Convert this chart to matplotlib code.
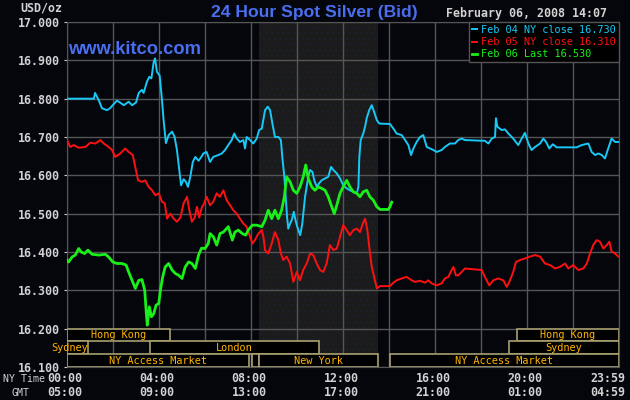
import matplotlib
matplotlib.use("Agg")
import matplotlib.pyplot as plt
from matplotlib.patches import Rectangle

# ---- data (hours since 00:00 NY time, USD/oz) ----
feb04_t = [0.0, 1.17, 1.22, 1.38, 1.52, 1.74, 1.87, 2.17, 2.30, 2.47, 2.68, 2.83, 3.00, 3.12, 3.26,
           3.33, 3.48, 3.58, 3.67, 3.77, 3.83, 3.91, 4.03, 4.13, 4.20, 4.30, 4.42, 4.57, 4.68, 4.78,
           4.88, 4.96, 5.07, 5.17, 5.26, 5.36, 5.47, 5.58, 5.72, 5.84, 5.93, 6.07, 6.22, 6.36, 6.58,
           6.73, 6.87, 7.01, 7.16, 7.27, 7.38, 7.52, 7.67, 7.74, 7.81, 7.96, 8.10, 8.25, 8.35, 8.47,
           8.61, 8.73, 8.83, 8.93, 9.04, 9.19, 9.30, 9.36, 9.45, 9.51, 9.57, 9.62, 9.70, 9.77, 9.86,
           9.91, 9.99, 10.06, 10.14, 10.23, 10.35, 10.42, 10.49, 10.57, 10.67, 10.75, 10.86, 10.96,
           11.07, 11.22, 11.36, 11.48, 11.58, 11.73, 11.87, 12.01, 12.16, 12.30, 12.45, 12.60, 12.67,
           12.71, 12.77, 12.88, 12.96, 13.03, 13.14, 13.25, 13.35, 13.47, 13.58, 14.04, 14.19, 14.33,
           14.55, 14.70, 14.84, 14.96, 15.06, 15.20, 15.35, 15.49, 15.64, 15.78, 15.93, 16.07, 16.29,
           16.43, 16.65, 16.87, 17.01, 17.16, 17.30, 18.17, 18.32, 18.47, 18.61, 18.65, 18.71, 18.90,
           19.04, 19.19, 19.40, 19.62, 19.77, 19.91, 20.06, 20.20, 20.35, 20.57, 20.71, 20.83, 20.97,
           21.12, 21.29, 22.16, 22.38, 22.67, 22.81, 22.96, 23.10, 23.25, 23.39, 23.53, 23.68, 23.83,
           23.97]
feb04_p = [16.800, 16.800, 16.815, 16.796, 16.775, 16.770, 16.775, 16.795, 16.790, 16.783, 16.792,
           16.783, 16.790, 16.815, 16.823, 16.815, 16.845, 16.857, 16.853, 16.896, 16.905, 16.870,
           16.860, 16.796, 16.744, 16.684, 16.705, 16.714, 16.700, 16.666, 16.614, 16.574, 16.590,
           16.583, 16.570, 16.596, 16.635, 16.648, 16.638, 16.648, 16.657, 16.661, 16.635, 16.648,
           16.653, 16.657, 16.666, 16.679, 16.692, 16.709, 16.696, 16.687, 16.692, 16.670, 16.700,
           16.692, 16.683, 16.696, 16.718, 16.722, 16.770, 16.779, 16.770, 16.735, 16.700, 16.700,
           16.692, 16.648, 16.596, 16.544, 16.490, 16.461, 16.474, 16.483, 16.505, 16.490, 16.470,
           16.457, 16.444, 16.474, 16.544, 16.570, 16.596, 16.614, 16.609, 16.587, 16.570, 16.579,
           16.587, 16.592, 16.596, 16.622, 16.614, 16.605, 16.592, 16.574, 16.566, 16.561, 16.557,
           16.553, 16.570, 16.648, 16.692, 16.709, 16.727, 16.749, 16.770, 16.783, 16.766, 16.744,
           16.735, 16.734, 16.722, 16.709, 16.705, 16.692, 16.679, 16.653, 16.670, 16.687, 16.700,
           16.705, 16.674, 16.670, 16.666, 16.661, 16.666, 16.674, 16.683, 16.683, 16.692, 16.696,
           16.692, 16.690, 16.683, 16.696, 16.700, 16.749, 16.727, 16.718, 16.720, 16.709, 16.696,
           16.679, 16.696, 16.711, 16.683, 16.666, 16.674, 16.683, 16.696, 16.687, 16.670, 16.681,
           16.673, 16.673, 16.679, 16.683, 16.661, 16.653, 16.657, 16.653, 16.644, 16.670, 16.696,
           16.687, 16.687]

feb05_t = [0.0, 0.14, 0.29, 0.51, 0.80, 1.01, 1.23, 1.45, 1.60, 1.81, 1.96, 2.10, 2.32, 2.53, 2.68,
           2.86, 2.97, 3.09, 3.26, 3.40, 3.55, 3.70, 3.84, 3.99, 4.13, 4.25, 4.35, 4.49, 4.64, 4.78,
           4.93, 5.07, 5.22, 5.32, 5.43, 5.55, 5.65, 5.75, 5.87, 5.93, 6.07, 6.22, 6.36, 6.51, 6.65,
           6.80, 6.94, 7.09, 7.23, 7.38, 7.52, 7.67, 7.81, 7.96, 8.06, 8.17, 8.32, 8.47, 8.54, 8.61,
           8.75, 8.90, 9.04, 9.19, 9.30, 9.40, 9.55, 9.70, 9.84, 9.99, 10.13, 10.27, 10.42, 10.57,
           10.71, 10.86, 11.00, 11.14, 11.29, 11.43, 11.58, 11.73, 11.87, 12.01, 12.16, 12.30, 12.45,
           12.60, 12.74, 12.86, 12.96, 13.06, 13.14, 13.25, 13.35, 13.47, 13.61, 14.04, 14.19, 14.33,
           14.55, 14.77, 14.99, 15.13, 15.35, 15.57, 15.71, 15.86, 16.07, 16.29, 16.43, 16.58, 16.68,
           16.80, 16.91, 17.01, 17.16, 17.30, 18.03, 18.17, 18.36, 18.53, 18.75, 18.97, 19.12, 19.26,
           19.40, 19.52, 19.70, 19.91, 20.13, 20.35, 20.57, 20.78, 21.00, 21.22, 21.43, 21.65, 21.80,
           22.01, 22.23, 22.45, 22.60, 22.74, 22.88, 23.03, 23.17, 23.32, 23.47, 23.58, 23.68, 23.83,
           23.97]
feb05_p = [16.692, 16.674, 16.679, 16.672, 16.674, 16.685, 16.683, 16.692, 16.683, 16.674, 16.666,
           16.648, 16.657, 16.670, 16.661, 16.653, 16.622, 16.587, 16.583, 16.587, 16.570, 16.561,
           16.548, 16.553, 16.531, 16.527, 16.487, 16.500, 16.487, 16.479, 16.490, 16.527, 16.544,
           16.509, 16.479, 16.490, 16.518, 16.490, 16.518, 16.522, 16.544, 16.522, 16.531, 16.553,
           16.544, 16.561, 16.535, 16.522, 16.509, 16.500, 16.487, 16.474, 16.466, 16.440, 16.422,
           16.431, 16.448, 16.457, 16.440, 16.405, 16.396, 16.422, 16.452, 16.431, 16.396, 16.379,
           16.388, 16.370, 16.322, 16.348, 16.326, 16.353, 16.370, 16.396, 16.392, 16.370, 16.353,
           16.348, 16.370, 16.418, 16.405, 16.409, 16.440, 16.470, 16.457, 16.444, 16.457, 16.461,
           16.452, 16.474, 16.487, 16.457, 16.414, 16.361, 16.335, 16.305, 16.311, 16.311, 16.320,
           16.326, 16.331, 16.335, 16.326, 16.322, 16.325, 16.320, 16.326, 16.318, 16.313, 16.318,
           16.331, 16.335, 16.348, 16.361, 16.339, 16.339, 16.348, 16.357, 16.353, 16.335, 16.313,
           16.326, 16.331, 16.326, 16.309, 16.326, 16.348, 16.374, 16.379, 16.383, 16.388, 16.392,
           16.388, 16.370, 16.366, 16.357, 16.361, 16.370, 16.357, 16.366, 16.353, 16.357, 16.370,
           16.396, 16.418, 16.431, 16.427, 16.409, 16.418, 16.427, 16.401, 16.396, 16.388]

feb06_t = [0.0, 0.07, 0.22, 0.36, 0.51, 0.62, 0.77, 0.91, 1.09, 1.38, 1.67, 1.81, 1.99, 2.17, 2.39,
           2.57, 2.68, 2.83, 2.97, 3.12, 3.26, 3.38, 3.45, 3.49, 3.58, 3.67, 3.77, 3.87, 3.99, 4.06,
           4.16, 4.27, 4.42, 4.57, 4.71, 4.86, 5.00, 5.14, 5.29, 5.43, 5.58, 5.72, 5.85, 6.00, 6.14,
           6.22, 6.36, 6.51, 6.65, 6.80, 7.01, 7.19, 7.30, 7.45, 7.62, 7.77, 7.88, 8.06, 8.25, 8.47,
           8.61, 8.75, 8.90, 9.04, 9.19, 9.33, 9.45, 9.55, 9.70, 9.84, 9.99, 10.13, 10.27, 10.38,
           10.49, 10.64, 10.78, 10.93, 11.07, 11.22, 11.36, 11.51, 11.62, 11.73, 11.87, 12.01, 12.16,
           12.30, 12.45, 12.60, 12.74, 12.88, 13.03, 13.17, 13.32, 13.47, 13.61, 13.97, 14.04, 14.12]
feb06_p = [16.379, 16.374, 16.387, 16.392, 16.409, 16.400, 16.396, 16.405, 16.394, 16.392, 16.394,
           16.387, 16.374, 16.370, 16.370, 16.366, 16.348, 16.326, 16.305, 16.326, 16.328, 16.300,
           16.239, 16.209, 16.257, 16.231, 16.239, 16.261, 16.266, 16.300, 16.335, 16.361, 16.370,
           16.353, 16.344, 16.339, 16.331, 16.361, 16.374, 16.370, 16.357, 16.392, 16.410, 16.409,
           16.422, 16.448, 16.440, 16.418, 16.448, 16.452, 16.466, 16.431, 16.452, 16.457, 16.448,
           16.444, 16.457, 16.470, 16.470, 16.466, 16.483, 16.509, 16.487, 16.509, 16.487, 16.509,
           16.544, 16.596, 16.583, 16.561, 16.553, 16.570, 16.596, 16.627, 16.592, 16.570, 16.561,
           16.570, 16.566, 16.561, 16.544, 16.518, 16.500, 16.522, 16.553, 16.570, 16.587, 16.570,
           16.557, 16.553, 16.544, 16.557, 16.561, 16.544, 16.535, 16.518, 16.511, 16.511, 16.518,
           16.530]

series_labels = ["Feb 04 NY close 16.730", "Feb 05 NY close 16.310", "Feb 06 Last 16.530"]

ny_ticks = ["00:00", "04:00", "08:00", "12:00", "16:00", "20:00", "23:59"]
gmt_ticks = ["05:00", "09:00", "13:00", "17:00", "21:00", "01:00", "04:59"]
tick_hours = [0, 4, 8, 12, 16, 20, 24]
price_ticks = [16.1, 16.2, 16.3, 16.4, 16.5, 16.6, 16.7, 16.8, 16.9, 17.0]

# market sessions: (name, start hour, end hour, row) row 0 = top
sessions = [("Hong Kong", 0.0, 4.48, 0), ("Hong Kong", 19.57, 24.0, 0),
            ("Sydney", 0.0, 0.91, 1), ("London", 3.6, 10.96, 1), ("Sydney", 19.2, 24.0, 1),
            ("NY Access Market", 0.0, 7.93, 2), ("", 8.03, 8.33, 2), ("New York", 8.33, 13.52, 2),
            ("NY Access Market", 14.04, 24.0, 2)]
ny_open, ny_close = 8.33, 13.52

BG = "#05060c"
GRID = "#555555"
TXT = "#d2d2d2"
BLUE = "#4a6ef0"
MONO = "DejaVu Sans Mono"

fig = plt.figure(figsize=(6.3, 4.0), dpi=100, facecolor=BG)
ax = fig.add_axes([67 / 630, 1 - 367 / 400, 552 / 630, 345 / 400])
ax.set_facecolor(BG)
ax.set_xlim(0, 24)
ax.set_ylim(16.1, 17.0)

# New York session shading (faint dotted texture)
plt.rcParams["hatch.linewidth"] = 0.5
ax.axvspan(ny_open, ny_close, facecolor="#1b1b1b", edgecolor="#1a2238", hatch="...", lw=0, zorder=0)

ax.set_xticks(range(0, 25, 2))
ax.set_yticks(price_ticks)
ax.grid(True, color=GRID, lw=1, zorder=1)
for s in ax.spines.values():
    s.set_color(GRID)
ax.tick_params(axis="x", length=0, labelbottom=False)
ax.tick_params(axis="y", length=2, color="#cccccc", labelcolor=TXT, labelsize=8.4, pad=3)
ax.set_yticklabels([f"{v:.3f}" for v in price_ticks], family=MONO, weight="bold")

l1, = ax.plot(feb04_t, feb04_p, color="#18c8f5", lw=1.4, zorder=3, label=series_labels[0])
l2, = ax.plot(feb05_t, feb05_p, color="#ff1010", lw=1.4, zorder=3, label=series_labels[1])
l3, = ax.plot(feb06_t, feb06_p, color="#18f018", lw=2.0, zorder=4, label=series_labels[2])

# session bars
row_h = (16.2 - 16.1) / 3
for name, a, b, row in sessions:
    y0 = 16.2 - (row + 1) * row_h
    ax.add_patch(Rectangle((a, y0), b - a, row_h, facecolor="#000000", edgecolor="#a8a070",
                           lw=1.2, zorder=5))
    if not name:
        continue
    if name == "Sydney" and b < 2:
        ax.text(b, y0 + row_h / 2, name, ha="right", va="center", color="#ffb400", fontsize=7.4,
                family=MONO, zorder=6, clip_on=False)
    else:
        ax.text((a + b) / 2, y0 + row_h / 2, name, ha="center", va="center", color="#ffb400",
                fontsize=7.4, family=MONO, zorder=6)

leg = ax.legend(handles=[l1, l2, l3], loc="upper right", borderaxespad=0,
                prop={"family": MONO, "size": 7.4}, labelcolor="linecolor", handlelength=0.5,
                handletextpad=0.4, labelspacing=0.2, borderpad=0.3, fancybox=False,
                facecolor="#000000", edgecolor=GRID, framealpha=1)
leg.get_frame().set_linewidth(1)
leg.set_zorder(7)

# x labels (NY time / GMT); last pair is pushed left so it stays inside the figure
for h, a, g in zip(tick_hours, ny_ticks, gmt_ticks):
    x = (65 + h * 23) / 630
    ha = "center"
    if h == 24:
        x, ha = 625 / 630, "right"
    fig.text(x, 1 - 378 / 400, a, ha=ha, va="center", color=TXT, fontsize=8.4,
             family=MONO, weight="bold")
    fig.text(x, 1 - 393 / 400, g, ha=ha, va="center", color=TXT, fontsize=8.4,
             family=MONO, weight="bold")
fig.text(3 / 630, 1 - 379 / 400, "NY Time", ha="left", va="center", color=TXT, fontsize=7.1, family=MONO)
fig.text(21 / 630, 1 - 393 / 400, "GMT", ha="center", va="center", color=TXT, fontsize=7.1, family=MONO)

fig.text(41 / 630, 1 - 8 / 400, "USD/oz", ha="center", va="center", color=TXT, fontsize=8.4,
         family=MONO, weight="bold")
fig.text(527 / 630, 1 - 14 / 400, "February 06, 2008 14:07", ha="center", va="center", color=TXT,
         fontsize=8.4, family=MONO, weight="bold")
fig.text(314 / 630, 1 - 12 / 400, "24 Hour Spot Silver (Bid)", ha="center", va="center", color=BLUE,
         fontsize=12.6, family="Liberation Sans", weight="bold")
fig.text(68 / 630, 1 - 49 / 400, "www.kitco.com", ha="left", va="center", color=BLUE, fontsize=13.2,
         family="Liberation Sans", weight="bold", zorder=10)

fig.savefig("out.png", dpi=100, facecolor=BG)
